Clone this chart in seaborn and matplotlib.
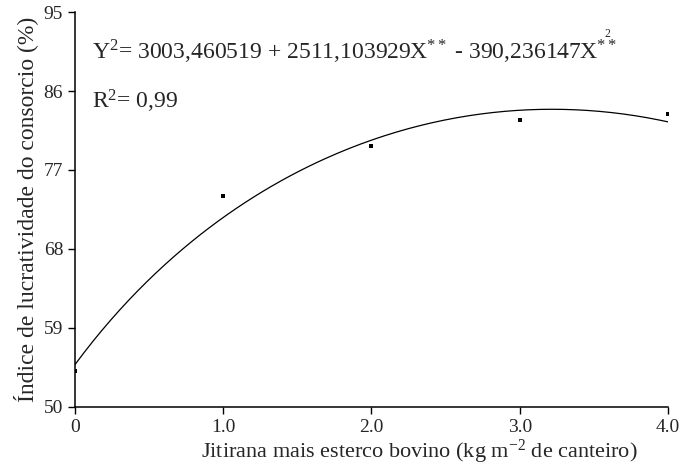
import numpy as np
import pandas as pd
import seaborn as sns
import matplotlib
matplotlib.use("Agg")
import matplotlib.pyplot as plt

dose = [0.0, 1.0, 2.0, 3.0, 4.0]
lucratividade = [54.1, 74.0, 79.7, 82.7, 83.4]

# fitted model shown on the chart: Y^2 = a + bX + cX^2
coef_a = 3003.460519
coef_b = 2511.103929
coef_c = -390.236147

yticks = [50, 59, 68, 77, 86, 95]
xticks = [0, 1, 2, 3, 4]
xticklabels = ["0", "1.0", "2.0", "3.0", "4.0"]

sns.set_style("ticks")
plt.rcParams["font.family"] = ["Liberation Serif", "DejaVu Serif"]
plt.rcParams["mathtext.fontset"] = "custom"
plt.rcParams["mathtext.rm"] = "Liberation Serif"
plt.rcParams["mathtext.it"] = "Liberation Serif"

pts = pd.DataFrame({"x": dose, "y": lucratividade})
xx = np.linspace(0, 4, 200)
fit = pd.DataFrame({"x": xx, "y": np.sqrt(coef_a + coef_b * xx + coef_c * xx ** 2)})

fig = plt.figure(figsize=(6.98, 4.67), dpi=100)
ax = fig.add_axes([0.1074, 0.129, 0.8496, 0.845])

sns.lineplot(data=fit, x="x", y="y", ax=ax, color="black", linewidth=0.9)
sns.scatterplot(data=pts, x="x", y="y", ax=ax, color="black", marker="s",
                s=11, edgecolor="black", linewidth=0, zorder=3)

ax.set_xlim(0, 4)
ax.set_ylim(50, 95)
ax.set_xticks(xticks)
ax.set_xticklabels(xticklabels)
ax.set_yticks(yticks)
ax.tick_params(labelsize=14, length=5, width=1, color="black", direction="out")
for s in ["left", "bottom"]:
    ax.spines[s].set_linewidth(1.1)
    ax.spines[s].set_color("black")
sns.despine(ax=ax)

ax.set_xlabel(r"Jitirana mais esterco bovino (kg m$^{-2}$ de canteiro)", fontsize=16)
ax.xaxis.set_label_coords(0.58, -0.078)
ax.set_ylabel("Índice de lucratividade do consorcio (%)", fontsize=17, labelpad=4)

ax.text(0.029, 0.915, r"Y$^{2}$= 3003,460519 + 2511,103929X$^{**}$ - 390,236147X$^{\overset{2}{**}}$",
        transform=ax.transAxes, fontsize=17, va="center")
ax.text(0.029, 0.775, r"R$^{2}$= 0,99", transform=ax.transAxes, fontsize=17, va="center")

fig.savefig("out.png", dpi=100)
